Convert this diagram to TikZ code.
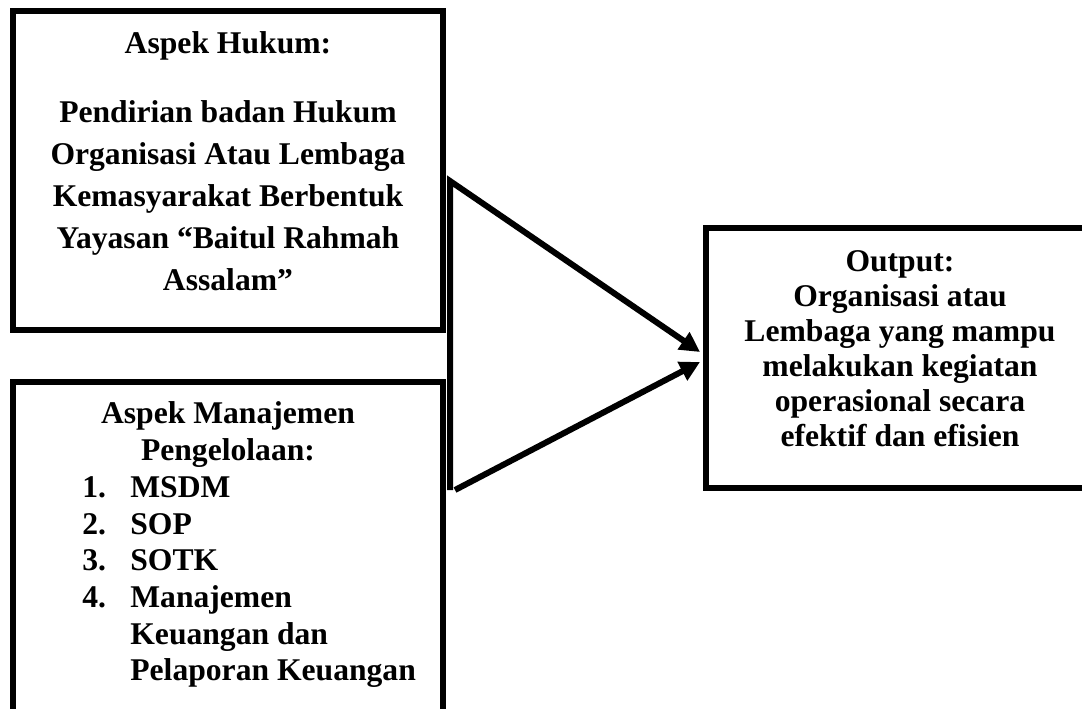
\documentclass[tikz,border=0pt]{standalone}
\usepackage{fontspec}
\setmainfont{Liberation Serif}
\usetikzlibrary{positioning,arrows.meta}

\begin{document}
\begin{tikzpicture}[x=0.02cm,y=-0.02cm,>={Triangle[length=0.4cm,width=0.4cm]},
  font=\bfseries\fontsize{18}{24}\selectfont,
  box/.style={draw,line width=0.11cm,outer sep=0pt,inner sep=0pt,minimum width=8.6cm},
  txt/.style={inner sep=0pt,align=center,anchor=north},
  flow/.style={line width=0.12cm}]
  \useasboundingbox (0,0) rectangle (1082,708);
  \clip (0,0) rectangle (1082,708);
  \node[box,minimum height=6.38cm] (hukum) at (228,170.5) {};
  \node[box,minimum height=7.2cm,below=1.04cm of hukum] (mgmt) {};
  \node[box,minimum width=7.76cm,minimum height=5.2cm] (output) at (900,358) {};
  % texts
  \node[txt] (hukumtxt) at ([yshift=-0.406cm]hukum.north) {Aspek Hukum:\\[15pt]Pendirian badan Hukum\\Organisasi Atau Lembaga\\Kemasyarakat Berbentuk\\Yayasan “Baitul Rahmah\\Assalam”};
  \node[txt,font=\bfseries\fontsize{18}{20.9}\selectfont] (mgmthead) at ([yshift=-0.386cm]mgmt.north) {Aspek Manajemen\\Pengelolaan:};
  \node[inner sep=0pt,anchor=north west,font=\bfseries\fontsize{18}{20.9}\selectfont] (mgmtitems) at ([xshift=1.38cm,yshift=-1.786cm]mgmt.north west)
    {\begin{tabular}{@{}p{0.96cm}@{}l@{}}
      1. & MSDM\\
      2. & SOP\\
      3. & SOTK\\
      4. & Manajemen\\
         & Keuangan dan\\
         & Pelaporan Keuangan
    \end{tabular}};
  \node[txt,font=\bfseries\fontsize{18}{19.9}\selectfont] (outputtxt) at ([yshift=-0.44cm]output.north) {Output:\\Organisasi atau\\Lembaga yang mampu\\melakukan kegiatan\\operasional secara\\efektif dan efisien};
  % arrows
  \coordinate (jtop) at (450,181);
  \coordinate (jbot) at (450,490);
  \draw[flow,->] (jbot) -- (jtop) -- ([xshift=-0.12cm,yshift=0.12cm]output.west);
  \draw[flow,->] ([xshift=0.1cm]jbot) -- ([xshift=-0.12cm,yshift=-0.08cm]output.west);
\end{tikzpicture}
\end{document}
